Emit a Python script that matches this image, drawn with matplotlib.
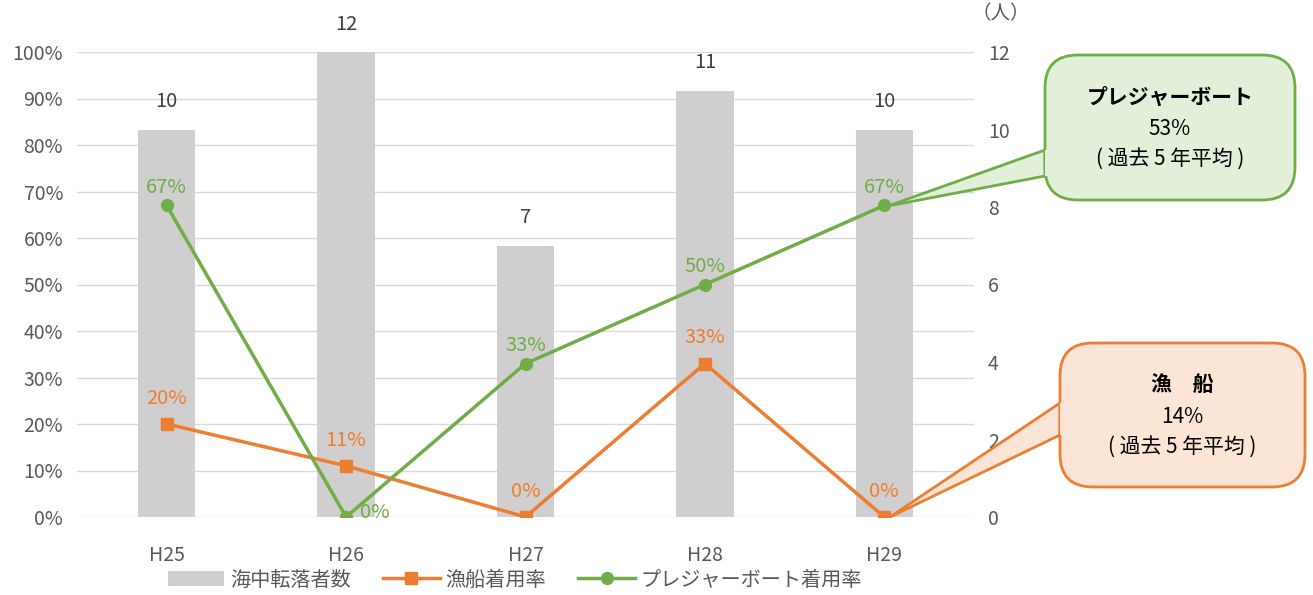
import matplotlib.pyplot as plt
from matplotlib.patches import FancyBboxPatch, Polygon

plt.rcParams['font.family'] = ['Noto Sans CJK JP', 'DejaVu Sans']

# data
years = ['H25', 'H26', 'H27', 'H28', 'H29']
fallen = [10, 12, 7, 11, 10]              # 海中転落者数 (人)
fishing_rate = [20, 11, 0, 33, 0]         # 漁船着用率 (%)
pleasure_rate = [67, 0, 33, 50, 67]       # プレジャーボート着用率 (%)
pct_ticks = list(range(0, 101, 10))
people_ticks = list(range(0, 13, 2))

c_bar = '#d0cece'
c_orange = '#ed7d31'
c_green = '#70ad47'
c_tick = '#595959'

W, H = 1313, 595
fig = plt.figure(figsize=(W / 100, H / 100), dpi=100)
ax = fig.add_axes([77 / W, 1 - 517 / H, (974 - 77) / W, (517 - 52) / H])
ax2 = ax.twinx()
x = list(range(len(years)))

# bars on the right axis (people)
ax2.bar(x, fallen, width=0.32, color=c_bar, zorder=1, label='海中転落者数')
for xi, v in zip(x, fallen):
    ax2.text(xi, v + 0.45, str(v), ha='center', va='bottom', fontsize=14.5, color='#404040')
ax2.set_ylim(0, 12)
ax2.set_yticks(people_ticks)
ax2.tick_params(length=0, labelsize=14, labelcolor=c_tick, pad=10)
ax2.text(0.997, 1.06, '（人）', transform=ax.transAxes, ha='left', va='bottom',
         fontsize=14, color=c_tick)

# lines on the left axis (percent)
ax.set_zorder(ax2.get_zorder() + 1)
ax.patch.set_visible(False)
ax.set_ylim(0, 100)
ax.set_xlim(-0.5, 4.5)
ax.set_yticks(pct_ticks)
ax.set_yticklabels([f'{t}%' for t in pct_ticks])
ax.set_xticks(x)
ax.set_xticklabels(years)
ax.tick_params(length=0, labelsize=14, labelcolor=c_tick)
ax.tick_params(axis='y', pad=10)
ax.tick_params(axis='x', pad=20)
for t in pct_ticks:
    ax2.axhline(t * 12 / 100, color='#d9d9d9', lw=1, zorder=0)

ax.plot(x, fishing_rate, color=c_orange, lw=2.5, marker='s', ms=8.5, label='漁船着用率', zorder=3)
ax.plot(x, pleasure_rate, color=c_green, lw=2.5, marker='o', ms=8.5, label='プレジャーボート着用率', zorder=4)

for xi, v in zip(x, fishing_rate):
    ax.text(xi, v + 3.3, f'{v}%', ha='center', va='bottom', fontsize=14.5, color=c_orange)
for xi, v in zip(x, pleasure_rate):
    if v == 0:
        ax.text(xi + 0.08, v + 1, f'{v}%', ha='left', va='center', fontsize=14.5, color=c_green)
    else:
        ax.text(xi, v + 1.6, f'{v}%', ha='center', va='bottom', fontsize=14.5, color=c_green)

for s in list(ax.spines.values()) + list(ax2.spines.values()):
    s.set_visible(False)

h1, l1 = ax2.get_legend_handles_labels()
h2, l2 = ax.get_legend_handles_labels()
fig.legend(h1 + h2, l1 + l2, loc='center', bbox_to_anchor=(515 / W, 1 - 580 / H),
           ncol=3, frameon=False, fontsize=14.5, labelcolor=c_tick,
           handlelength=2.8, columnspacing=1.6, handletextpad=0.3)


# callouts (pixel coords converted to figure fraction)
def fx(px):
    return px / W


def fy(py):
    return 1 - py / H


def callout(box, tail, face, edge, lines):
    x0, y0, x1, y1 = box
    tail_pts = [(fx(p[0]), fy(p[1])) for p in tail]
    fig.patches.append(Polygon(tail_pts, closed=True, transform=fig.transFigure,
                               facecolor=face, edgecolor=edge, lw=2, zorder=5))
    fig.patches.append(FancyBboxPatch((fx(x0), fy(y1)), fx(x1) - fx(x0), fy(y0) - fy(y1),
                                      boxstyle='round,pad=0,rounding_size=0.025',
                                      transform=fig.transFigure, mutation_aspect=W / H,
                                      facecolor=face, edgecolor=edge, lw=2, zorder=6))
    inner = [tail_pts[0], tail_pts[1], (tail_pts[1][0] + 0.004, tail_pts[1][1]),
             (tail_pts[0][0] + 0.004, tail_pts[0][1])]
    fig.patches.append(Polygon(inner, closed=True, transform=fig.transFigure,
                               facecolor=face, edgecolor='none', zorder=7))
    cx = (x0 + x1) / 2
    for (txt, bold), py in zip(lines, [y0 + 42, y0 + 74, y0 + 104]):
        fig.text(fx(cx), fy(py), txt, ha='center', va='center', fontsize=15,
                 fontweight='bold' if bold else 'normal', color='black', zorder=8)


callout((1045, 55, 1295, 200),
        [(1045, 150), (1045, 176), (888, 206)],
        '#e2efd9', c_green,
        [('プレジャーボート', True), ('53%', False), ('( 過去 5 年平均 )', False)])
callout((1060, 343, 1305, 487),
        [(1060, 403), (1060, 435), (890, 517)],
        '#fbe5d6', c_orange,
        [('漁　船', True), ('14%', False), ('( 過去 5 年平均 )', False)])

fig.savefig('out.png', dpi=100)
